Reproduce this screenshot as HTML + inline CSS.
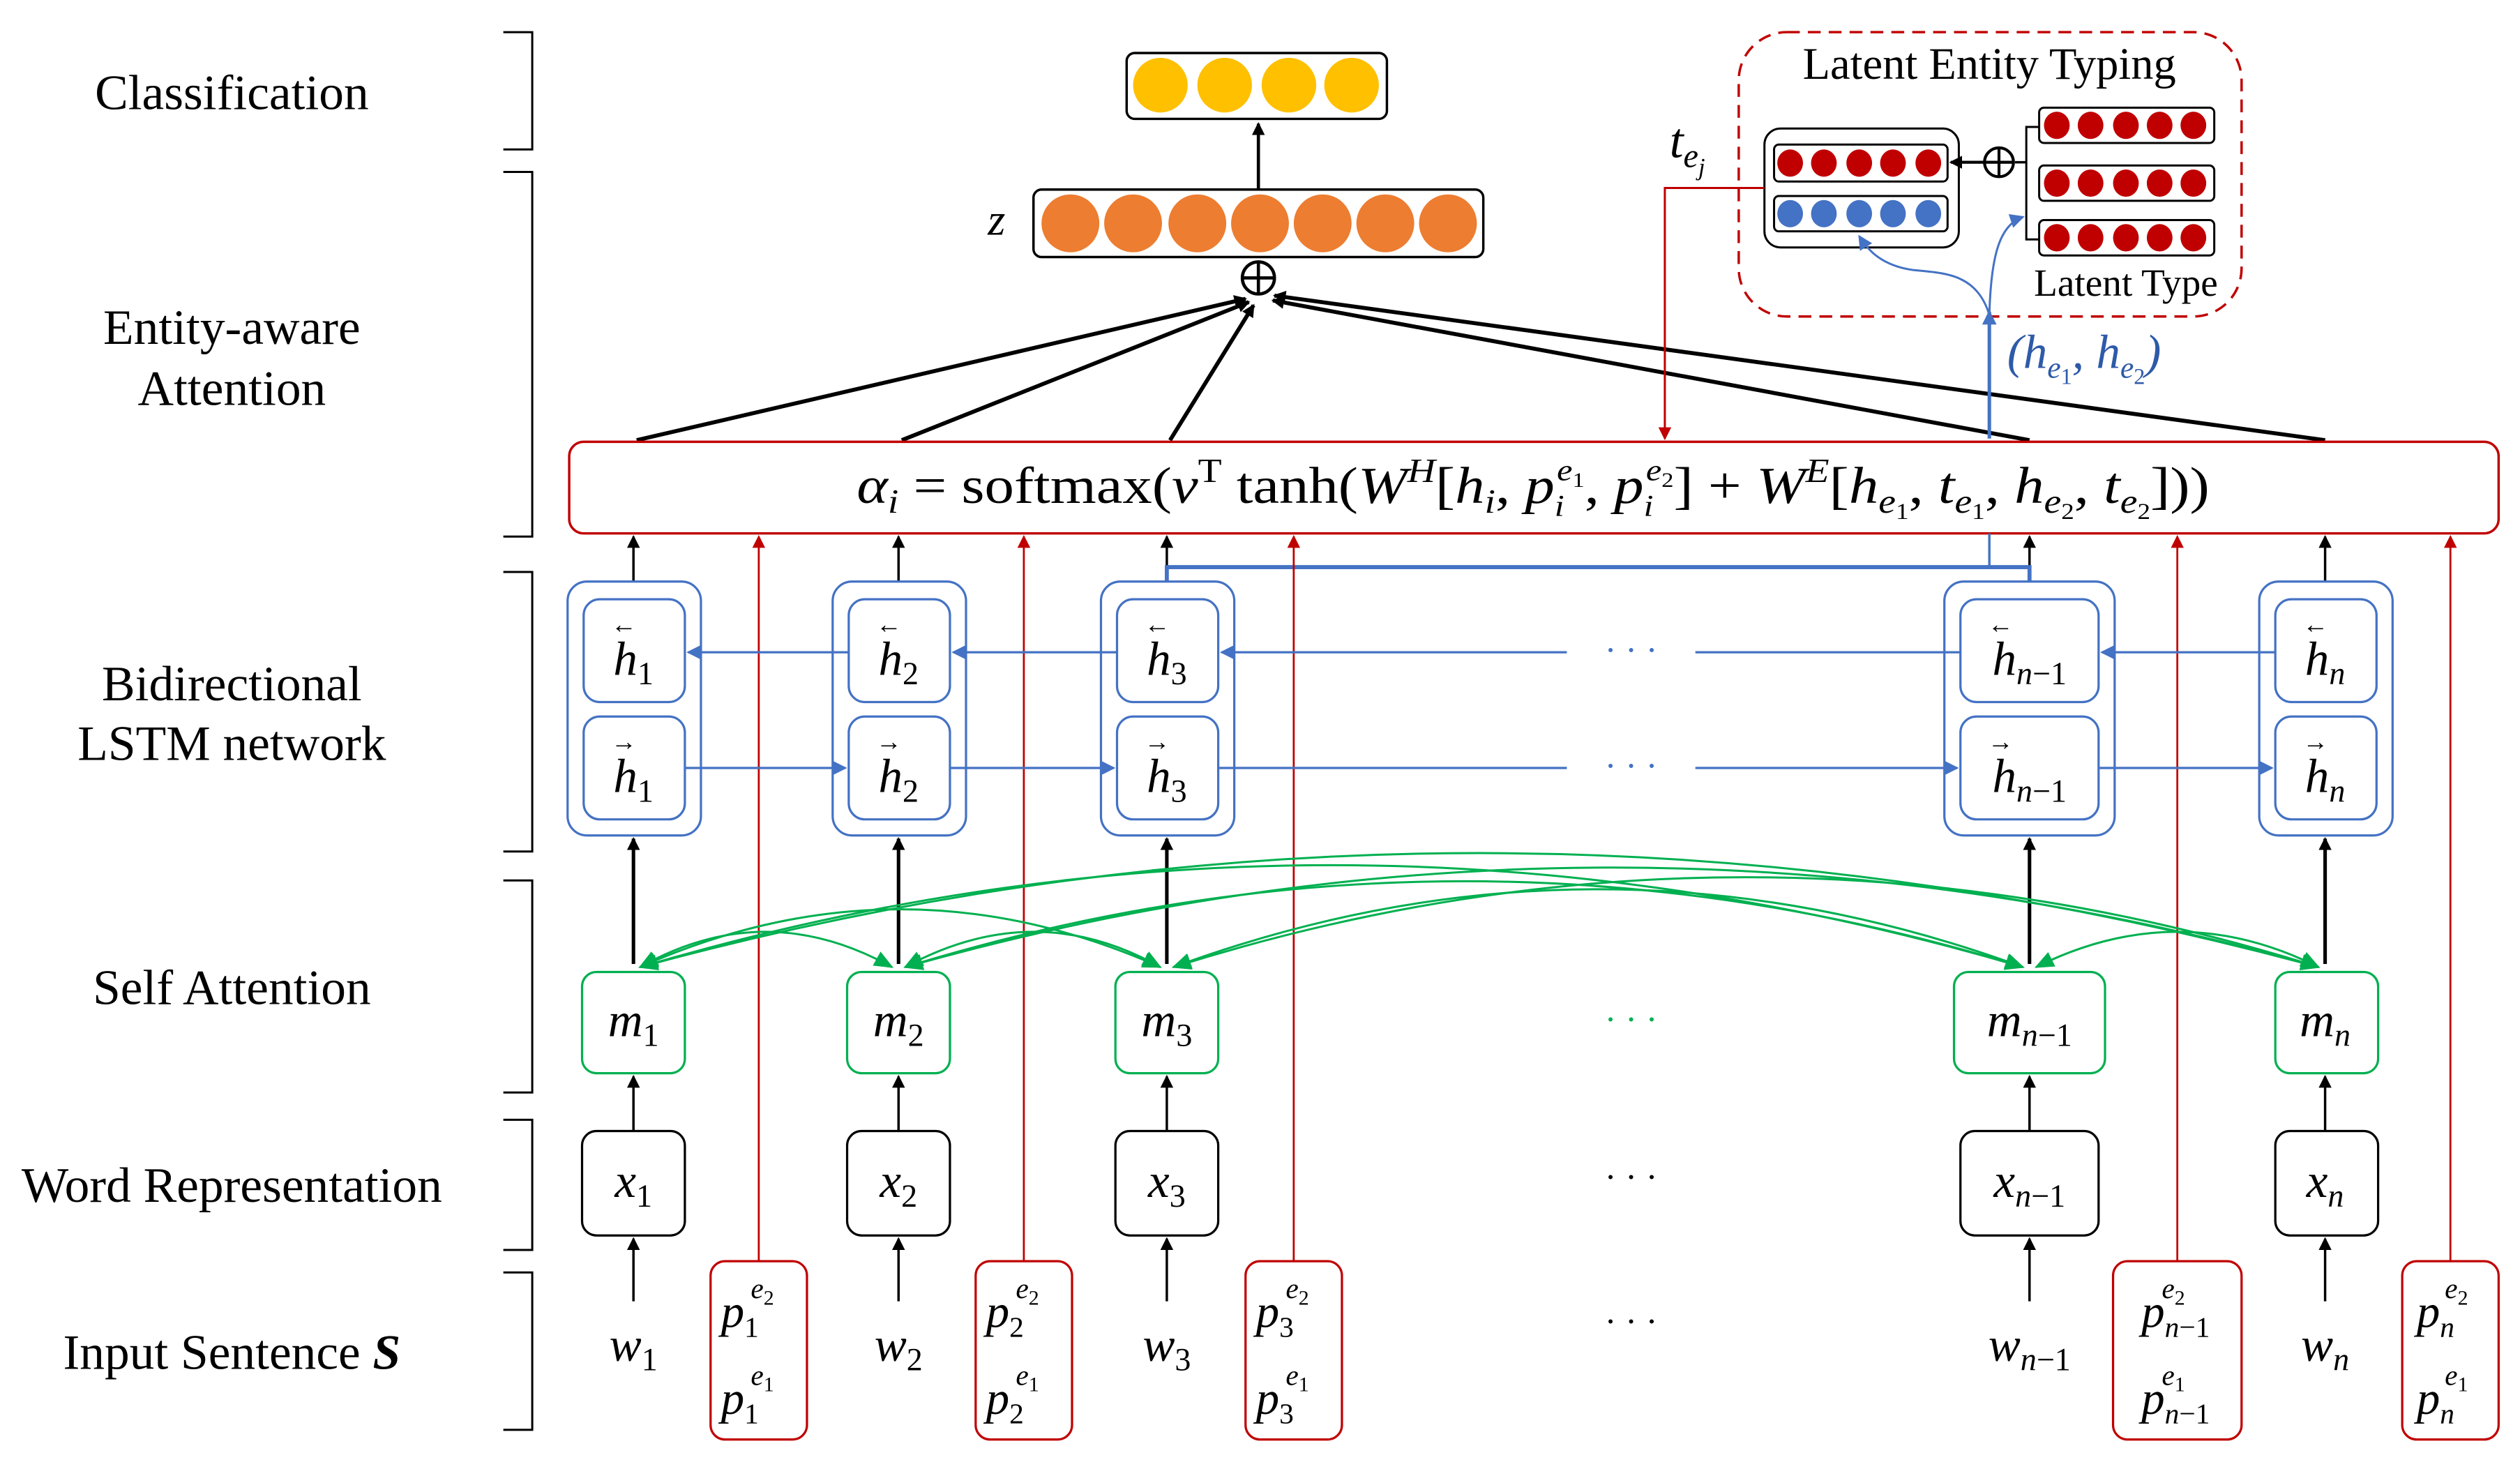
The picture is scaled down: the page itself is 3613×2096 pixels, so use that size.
<!DOCTYPE html>
<html><head><meta charset="utf-8"><style>
html,body{margin:0;padding:0;background:#fff}
svg{display:block}
.lab{font-family:"Liberation Serif",serif;font-size:31px;fill:#000;text-anchor:middle}
.m{font-family:"Liberation Serif",serif;font-style:italic;fill:#000;text-anchor:middle}
</style></head><body>
<svg width="3613" height="2096" viewBox="0 0 1568 910" xmlns="http://www.w3.org/2000/svg">
<defs>
<marker id="ak" markerWidth="8" markerHeight="8" refX="7" refY="4" orient="auto" markerUnits="userSpaceOnUse"><path d="M0,0 L8,4 L0,8 z" fill="#000"/></marker>
<marker id="ar" markerWidth="8" markerHeight="8" refX="7" refY="4" orient="auto" markerUnits="userSpaceOnUse"><path d="M0,0 L8,4 L0,8 z" fill="#c00000"/></marker>
<marker id="ab" markerWidth="9" markerHeight="9" refX="8" refY="4.5" orient="auto" markerUnits="userSpaceOnUse"><path d="M0,0 L9,4.5 L0,9 z" fill="#4472c4"/></marker>
<marker id="ag" markerWidth="12" markerHeight="10" refX="11" refY="5" orient="auto-start-reverse" markerUnits="userSpaceOnUse"><path d="M0,0 L12,5 L0,10 z" fill="#00b050"/></marker>
</defs>

<!-- left labels -->
<text class="lab" x="144" y="68">Classification</text>
<text class="lab" x="144" y="214">Entity-aware</text>
<text class="lab" x="144" y="252">Attention</text>
<text class="lab" x="144" y="436">Bidirectional</text>
<text class="lab" x="144" y="473">LSTM network</text>
<text class="lab" x="144" y="625">Self Attention</text>
<text class="lab" x="144" y="748">Word Representation</text>
<text class="lab" x="144" y="852">Input Sentence <tspan font-style="italic" font-weight="bold">S</tspan></text>

<!-- brackets -->
<g fill="none" stroke="#000" stroke-width="1.3">
<path d="M313,20 H331 V93 H313"/>
<path d="M313,107 H331 V334 H313"/>
<path d="M313,356 H331 V530 H313"/>
<path d="M313,548 H331 V680 H313"/>
<path d="M313,697 H331 V778 H313"/>
<path d="M313,792 H331 V890 H313"/>
</g>

<!-- classification -->
<rect x="701" y="33" width="162" height="41" rx="5" fill="#fff" stroke="#000" stroke-width="1.5"/>
<g fill="#ffc000"><circle cx="722" cy="53" r="17"/><circle cx="762" cy="53" r="17"/><circle cx="802" cy="53" r="17"/><circle cx="841" cy="53" r="17"/></g>
<line x1="783" y1="118" x2="783" y2="77" stroke="#000" stroke-width="2" marker-end="url(#ak)"/>
<!-- z -->
<text class="m" x="620" y="146" font-size="28">z</text>
<rect x="643" y="118" width="280" height="42" rx="5" fill="#fff" stroke="#000" stroke-width="1.5"/>
<g fill="#ed7d31"><circle cx="666" cy="139" r="18"/><circle cx="705" cy="139" r="18"/><circle cx="745" cy="139" r="18"/><circle cx="784" cy="139" r="18"/><circle cx="823" cy="139" r="18"/><circle cx="862" cy="139" r="18"/><circle cx="901" cy="139" r="18"/></g>
<circle cx="783" cy="173" r="10" fill="#fff" stroke="#000" stroke-width="2"/>
<path d="M773,173 H793 M783,163 V183" stroke="#000" stroke-width="2"/>

<!-- lines to plus -->
<g stroke="#000" stroke-width="2.5" marker-end="url(#ak)">
<line x1="396" y1="274" x2="775" y2="186"/>
<line x1="561" y1="274" x2="777" y2="188"/>
<line x1="728" y1="274" x2="780" y2="190"/>
<line x1="1263" y1="274" x2="792" y2="187"/>
<line x1="1447" y1="274" x2="793" y2="184"/>
</g>

<!-- latent entity typing -->
<rect x="1082" y="20" width="313" height="177" rx="30" fill="none" stroke="#c00000" stroke-width="1.5" stroke-dasharray="8,5"/>
<text class="lab" x="1238" y="49" style="font-size:28px">Latent Entity Typing</text>
<text class="lab" x="1323" y="184" style="font-size:24px">Latent Type</text>
<text class="m" x="1050" y="98" font-size="31">t<tspan font-size="21" dy="6">e</tspan><tspan font-size="15" dy="5">j</tspan></text>
<rect x="1098" y="80" width="121" height="74" rx="10" fill="#fff" stroke="#000" stroke-width="1.3"/>
<rect x="1104" y="90" width="108" height="23" rx="3" fill="#fff" stroke="#000" stroke-width="1.3"/>
<rect x="1104" y="122" width="108" height="22" rx="3" fill="#fff" stroke="#000" stroke-width="1.3"/>
<g fill="#c00000"><ellipse cx="1114" cy="101.5" rx="8" ry="8.5"/><ellipse cx="1135" cy="101.5" rx="8" ry="8.5"/><ellipse cx="1157" cy="101.5" rx="8" ry="8.5"/><ellipse cx="1178" cy="101.5" rx="8" ry="8.5"/><ellipse cx="1200" cy="101.5" rx="8" ry="8.5"/></g>
<g fill="#4472c4"><ellipse cx="1114" cy="133" rx="8" ry="8.5"/><ellipse cx="1135" cy="133" rx="8" ry="8.5"/><ellipse cx="1157" cy="133" rx="8" ry="8.5"/><ellipse cx="1178" cy="133" rx="8" ry="8.5"/><ellipse cx="1200" cy="133" rx="8" ry="8.5"/></g>
<g fill="#fff" stroke="#000" stroke-width="1.3">
<rect x="1269" y="67" width="109" height="22" rx="3"/><rect x="1269" y="103" width="109" height="22" rx="3"/><rect x="1269" y="137" width="109" height="22" rx="3"/>
</g>
<g fill="#c00000">
<ellipse cx="1280" cy="78" rx="8" ry="8.5"/><ellipse cx="1301" cy="78" rx="8" ry="8.5"/><ellipse cx="1323" cy="78" rx="8" ry="8.5"/><ellipse cx="1344" cy="78" rx="8" ry="8.5"/><ellipse cx="1365" cy="78" rx="8" ry="8.5"/>
<ellipse cx="1280" cy="114" rx="8" ry="8.5"/><ellipse cx="1301" cy="114" rx="8" ry="8.5"/><ellipse cx="1323" cy="114" rx="8" ry="8.5"/><ellipse cx="1344" cy="114" rx="8" ry="8.5"/><ellipse cx="1365" cy="114" rx="8" ry="8.5"/>
<ellipse cx="1280" cy="148" rx="8" ry="8.5"/><ellipse cx="1301" cy="148" rx="8" ry="8.5"/><ellipse cx="1323" cy="148" rx="8" ry="8.5"/><ellipse cx="1344" cy="148" rx="8" ry="8.5"/><ellipse cx="1365" cy="148" rx="8" ry="8.5"/>
</g>
<path d="M1269,79 H1261 V149 H1269" fill="none" stroke="#000" stroke-width="1.3"/>
<line x1="1261" y1="101" x2="1254" y2="101" stroke="#000" stroke-width="1.5"/>
<circle cx="1244" cy="101" r="9" fill="#fff" stroke="#000" stroke-width="1.8"/>
<path d="M1235,101 H1253 M1244,92 V110" stroke="#000" stroke-width="1.8"/>
<line x1="1235" y1="101" x2="1214" y2="101" stroke="#000" stroke-width="1.8" marker-end="url(#ak)"/>
<!-- red t_ej line -->
<path d="M1098,117 H1036 V273" fill="none" stroke="#c00000" stroke-width="1.3" marker-end="url(#ar)"/>
<!-- blue he -->
<line x1="1238" y1="273" x2="1238" y2="194" stroke="#4472c4" stroke-width="2.2" marker-end="url(#ab)"/>
<path d="M1238,196 C1239,160 1244,140 1259,135" fill="none" stroke="#4472c4" stroke-width="1.3" marker-end="url(#ab)"/>
<path d="M1238,196 C1230,170 1210,170 1190,168 C1170,165 1162,155 1157,147" fill="none" stroke="#4472c4" stroke-width="1.3" marker-end="url(#ab)"/>
<text class="m" x="1297" y="229" font-size="30" style="fill:#2e5aa8">(h<tspan font-size="19" dy="6">e</tspan><tspan font-size="14" dy="4" font-style="normal">1</tspan><tspan dy="-10">, h</tspan><tspan font-size="19" dy="6">e</tspan><tspan font-size="14" dy="4" font-style="normal">2</tspan><tspan dy="-10">)</tspan></text>

<!-- attention box -->
<rect x="354" y="275" width="1201" height="57" rx="9" fill="#fff" stroke="#c00000" stroke-width="1.5"/>
<text class="m" x="533" y="313" font-size="32" style="text-anchor:start" textLength="842" lengthAdjust="spacingAndGlyphs">α<tspan font-size="21" dy="6">i</tspan><tspan dy="-6" font-style="normal"> = softmax(</tspan>v<tspan font-style="normal" font-size="21" dy="-13">T</tspan><tspan font-style="normal" dy="13"> tanh(</tspan>W<tspan font-size="21" dy="-13">H</tspan><tspan dy="13" font-style="normal">[</tspan>h<tspan font-size="21" dy="6">i</tspan><tspan dy="-6" font-style="normal">, </tspan>p<tspan font-size="19" dy="8">i</tspan><tspan font-size="19" dx="-4" dy="-22">e</tspan><tspan font-size="13" dy="4" font-style="normal">1</tspan><tspan dy="10" font-style="normal">, </tspan>p<tspan font-size="19" dy="8">i</tspan><tspan font-size="19" dx="-4" dy="-22">e</tspan><tspan font-size="13" dy="4" font-style="normal">2</tspan><tspan dy="10" font-style="normal">] + </tspan>W<tspan font-size="21" dy="-13">E</tspan><tspan dy="13" font-style="normal">[</tspan>h<tspan font-size="21" dy="6">e</tspan><tspan font-size="14" dy="4" font-style="normal">1</tspan><tspan dy="-10" font-style="normal">, </tspan>t<tspan font-size="21" dy="6">e</tspan><tspan font-size="14" dy="4" font-style="normal">1</tspan><tspan dy="-10" font-style="normal">, </tspan>h<tspan font-size="21" dy="6">e</tspan><tspan font-size="14" dy="4" font-style="normal">2</tspan><tspan dy="-10" font-style="normal">, </tspan>t<tspan font-size="21" dy="6">e</tspan><tspan font-size="14" dy="4" font-style="normal">2</tspan><tspan dy="-10" font-style="normal">]))</tspan></text>

<!-- black arrows lstm -> attention -->
<g stroke="#000" stroke-width="1.5" marker-end="url(#ak)">
<line x1="394" y1="362" x2="394" y2="334"/>
<line x1="559" y1="362" x2="559" y2="334"/>
<line x1="726" y1="362" x2="726" y2="334"/>
<line x1="1263" y1="362" x2="1263" y2="334"/>
<line x1="1447" y1="362" x2="1447" y2="334"/>
</g>
<!-- blue connector -->
<path d="M726,362 V353 H1263 V362" fill="none" stroke="#4472c4" stroke-width="2.5"/>
<line x1="1238" y1="353" x2="1238" y2="332" stroke="#4472c4" stroke-width="1.5"/>

<!-- red p arrows -->
<g stroke="#c00000" stroke-width="1.2" marker-end="url(#ar)">
<line x1="472" y1="785" x2="472" y2="334"/>
<line x1="637" y1="785" x2="637" y2="334"/>
<line x1="805" y1="785" x2="805" y2="334"/>
<line x1="1355" y1="785" x2="1355" y2="334"/>
<line x1="1525" y1="785" x2="1525" y2="334"/>
</g>

<!-- BiLSTM -->
<g fill="none" stroke="#4472c4" stroke-width="1.4">
<rect x="353" y="362" width="83" height="158" rx="12"/>
<rect x="518" y="362" width="83" height="158" rx="12"/>
<rect x="685" y="362" width="83" height="158" rx="12"/>
<rect x="1210" y="362" width="106" height="158" rx="12"/>
<rect x="1406" y="362" width="83" height="158" rx="12"/>
<rect x="363" y="373" width="63" height="64" rx="10"/><rect x="363" y="446" width="63" height="64" rx="10"/>
<rect x="528" y="373" width="63" height="64" rx="10"/><rect x="528" y="446" width="63" height="64" rx="10"/>
<rect x="695" y="373" width="63" height="64" rx="10"/><rect x="695" y="446" width="63" height="64" rx="10"/>
<rect x="1220" y="373" width="86" height="64" rx="10"/><rect x="1220" y="446" width="86" height="64" rx="10"/>
<rect x="1416" y="373" width="63" height="64" rx="10"/><rect x="1416" y="446" width="63" height="64" rx="10"/>
</g>
<g stroke="#4472c4" stroke-width="1.4" marker-end="url(#ab)">
<line x1="528" y1="406" x2="428" y2="406"/>
<line x1="695" y1="406" x2="593" y2="406"/>
<line x1="975" y1="406" x2="760" y2="406"/>
<line x1="1416" y1="406" x2="1308" y2="406"/>
<line x1="426" y1="478" x2="526" y2="478"/>
<line x1="591" y1="478" x2="693" y2="478"/>
<line x1="1055" y1="478" x2="1218" y2="478"/>
<line x1="1306" y1="478" x2="1414" y2="478"/>
</g>
<line x1="1055" y1="406" x2="1220" y2="406" stroke="#4472c4" stroke-width="1.4"/>
<line x1="758" y1="478" x2="975" y2="478" stroke="#4472c4" stroke-width="1.4"/>
<text x="1015" y="412" font-size="22" text-anchor="middle" fill="#4472c4" font-family="Liberation Serif">· · ·</text>
<text x="1015" y="484" font-size="22" text-anchor="middle" fill="#4472c4" font-family="Liberation Serif">· · ·</text>
<g class="m" font-size="30">
<text x="394" y="420">h<tspan font-size="20" dy="6" font-style="normal">1</tspan></text><text x="388" y="394" font-size="16" font-style="normal">←</text>
<text x="394" y="493">h<tspan font-size="20" dy="6" font-style="normal">1</tspan></text><text x="388" y="467" font-size="16" font-style="normal">→</text>
<text x="559" y="420">h<tspan font-size="20" dy="6" font-style="normal">2</tspan></text><text x="553" y="394" font-size="16" font-style="normal">←</text>
<text x="559" y="493">h<tspan font-size="20" dy="6" font-style="normal">2</tspan></text><text x="553" y="467" font-size="16" font-style="normal">→</text>
<text x="726" y="420">h<tspan font-size="20" dy="6" font-style="normal">3</tspan></text><text x="720" y="394" font-size="16" font-style="normal">←</text>
<text x="726" y="493">h<tspan font-size="20" dy="6" font-style="normal">3</tspan></text><text x="720" y="467" font-size="16" font-style="normal">→</text>
<text x="1263" y="420">h<tspan font-size="20" dy="6">n</tspan><tspan font-size="20" font-style="normal">−1</tspan></text><text x="1245" y="394" font-size="16" font-style="normal">←</text>
<text x="1263" y="493">h<tspan font-size="20" dy="6">n</tspan><tspan font-size="20" font-style="normal">−1</tspan></text><text x="1245" y="467" font-size="16" font-style="normal">→</text>
<text x="1447" y="420">h<tspan font-size="20" dy="6">n</tspan></text><text x="1441" y="394" font-size="16" font-style="normal">←</text>
<text x="1447" y="493">h<tspan font-size="20" dy="6">n</tspan></text><text x="1441" y="467" font-size="16" font-style="normal">→</text>
</g>

<!-- m -> lstm arrows -->
<g stroke="#000" stroke-width="2.2" marker-end="url(#ak)">
<line x1="394" y1="600" x2="394" y2="522"/>
<line x1="559" y1="600" x2="559" y2="522"/>
<line x1="726" y1="600" x2="726" y2="522"/>
<line x1="1263" y1="600" x2="1263" y2="522"/>
<line x1="1447" y1="600" x2="1447" y2="522"/>
</g>
<!-- green arcs -->
<g fill="none" stroke="#00b050" stroke-width="1.3" marker-start="url(#ag)" marker-end="url(#ag)">
<path d="M398,602 Q476,558 555,602"/>
<path d="M398,602 Q560,530 722,602"/>
<path d="M398,602 Q828,475 1259,602"/>
<path d="M398,602 Q920,460 1443,602"/>
<path d="M563,602 Q644,558 722,602"/>
<path d="M563,602 Q911,495 1259,602"/>
<path d="M563,602 Q1003,478 1443,602"/>
<path d="M730,602 Q994,505 1259,602"/>
<path d="M730,602 Q1086,490 1443,602"/>
<path d="M1267,602 Q1355,558 1443,602"/>
</g>

<!-- m boxes -->
<g fill="#fff" stroke="#00b050" stroke-width="1.4">
<rect x="362" y="605" width="64" height="63" rx="9"/><rect x="527" y="605" width="64" height="63" rx="9"/><rect x="694" y="605" width="64" height="63" rx="9"/><rect x="1216" y="605" width="94" height="63" rx="9"/><rect x="1416" y="605" width="64" height="63" rx="9"/>
</g>
<g class="m" font-size="30">
<text x="394" y="645">m<tspan font-size="20" dy="6" font-style="normal">1</tspan></text>
<text x="559" y="645">m<tspan font-size="20" dy="6" font-style="normal">2</tspan></text>
<text x="726" y="645">m<tspan font-size="20" dy="6" font-style="normal">3</tspan></text>
<text x="1263" y="645">m<tspan font-size="20" dy="6">n</tspan><tspan font-size="20" font-style="normal">−1</tspan></text>
<text x="1447" y="645">m<tspan font-size="20" dy="6">n</tspan></text>
</g>
<text x="1015" y="642" font-size="22" text-anchor="middle" fill="#00b050" font-family="Liberation Serif">· · ·</text>

<!-- x -> m arrows -->
<g stroke="#000" stroke-width="1.5" marker-end="url(#ak)">
<line x1="394" y1="704" x2="394" y2="670"/><line x1="559" y1="704" x2="559" y2="670"/><line x1="726" y1="704" x2="726" y2="670"/><line x1="1263" y1="704" x2="1263" y2="670"/><line x1="1447" y1="704" x2="1447" y2="670"/>
<line x1="394" y1="810" x2="394" y2="771"/><line x1="559" y1="810" x2="559" y2="771"/><line x1="726" y1="810" x2="726" y2="771"/><line x1="1263" y1="810" x2="1263" y2="771"/><line x1="1447" y1="810" x2="1447" y2="771"/>
</g>
<g fill="#fff" stroke="#000" stroke-width="1.4">
<rect x="362" y="704" width="64" height="65" rx="9"/><rect x="527" y="704" width="64" height="65" rx="9"/><rect x="694" y="704" width="64" height="65" rx="9"/><rect x="1220" y="704" width="86" height="65" rx="9"/><rect x="1416" y="704" width="64" height="65" rx="9"/>
</g>
<g class="m" font-size="30">
<text x="394" y="745">x<tspan font-size="20" dy="6" font-style="normal">1</tspan></text>
<text x="559" y="745">x<tspan font-size="20" dy="6" font-style="normal">2</tspan></text>
<text x="726" y="745">x<tspan font-size="20" dy="6" font-style="normal">3</tspan></text>
<text x="1263" y="745">x<tspan font-size="20" dy="6">n</tspan><tspan font-size="20" font-style="normal">−1</tspan></text>
<text x="1447" y="745">x<tspan font-size="20" dy="6">n</tspan></text>
</g>
<text x="1015" y="740" font-size="22" text-anchor="middle" fill="#000" font-family="Liberation Serif">· · ·</text>
<text x="1015" y="830" font-size="22" text-anchor="middle" fill="#000" font-family="Liberation Serif">· · ·</text>

<!-- words -->
<g class="m" font-size="30">
<text x="394" y="847">w<tspan font-size="20" dy="6" font-style="normal">1</tspan></text>
<text x="559" y="847">w<tspan font-size="20" dy="6" font-style="normal">2</tspan></text>
<text x="726" y="847">w<tspan font-size="20" dy="6" font-style="normal">3</tspan></text>
<text x="1263" y="847">w<tspan font-size="20" dy="6">n</tspan><tspan font-size="20" font-style="normal">−1</tspan></text>
<text x="1447" y="847">w<tspan font-size="20" dy="6">n</tspan></text>
</g>
<!-- p boxes -->
<g fill="#fff" stroke="#c00000" stroke-width="1.4">
<rect x="442" y="785" width="60" height="111" rx="9"/><rect x="607" y="785" width="60" height="111" rx="9"/><rect x="775" y="785" width="60" height="111" rx="9"/><rect x="1315" y="785" width="80" height="111" rx="9"/><rect x="1495" y="785" width="60" height="111" rx="9"/>
</g>
<g class="m" font-size="29">
<text x="465" y="826">p<tspan font-size="18" dy="6" font-style="normal">1</tspan><tspan font-size="18" dx="-5" dy="-24">e</tspan><tspan font-size="13" dy="4" font-style="normal">2</tspan></text>
<text x="465" y="880">p<tspan font-size="18" dy="6" font-style="normal">1</tspan><tspan font-size="18" dx="-5" dy="-24">e</tspan><tspan font-size="13" dy="4" font-style="normal">1</tspan></text>
<text x="630" y="826">p<tspan font-size="18" dy="6" font-style="normal">2</tspan><tspan font-size="18" dx="-5" dy="-24">e</tspan><tspan font-size="13" dy="4" font-style="normal">2</tspan></text>
<text x="630" y="880">p<tspan font-size="18" dy="6" font-style="normal">2</tspan><tspan font-size="18" dx="-5" dy="-24">e</tspan><tspan font-size="13" dy="4" font-style="normal">1</tspan></text>
<text x="798" y="826">p<tspan font-size="18" dy="6" font-style="normal">3</tspan><tspan font-size="18" dx="-5" dy="-24">e</tspan><tspan font-size="13" dy="4" font-style="normal">2</tspan></text>
<text x="798" y="880">p<tspan font-size="18" dy="6" font-style="normal">3</tspan><tspan font-size="18" dx="-5" dy="-24">e</tspan><tspan font-size="13" dy="4" font-style="normal">1</tspan></text>
<text x="1354" y="826">p<tspan font-size="18" dy="6">n</tspan><tspan font-size="18" font-style="normal">−1</tspan><tspan font-size="18" dx="-30" dy="-24">e</tspan><tspan font-size="13" dy="4" font-style="normal">2</tspan></text>
<text x="1354" y="880">p<tspan font-size="18" dy="6">n</tspan><tspan font-size="18" font-style="normal">−1</tspan><tspan font-size="18" dx="-30" dy="-24">e</tspan><tspan font-size="13" dy="4" font-style="normal">1</tspan></text>
<text x="1520" y="826">p<tspan font-size="18" dy="6">n</tspan><tspan font-size="18" dx="-6" dy="-24">e</tspan><tspan font-size="13" dy="4" font-style="normal">2</tspan></text>
<text x="1520" y="880">p<tspan font-size="18" dy="6">n</tspan><tspan font-size="18" dx="-6" dy="-24">e</tspan><tspan font-size="13" dy="4" font-style="normal">1</tspan></text>
</g>
</svg>
</body></html>
